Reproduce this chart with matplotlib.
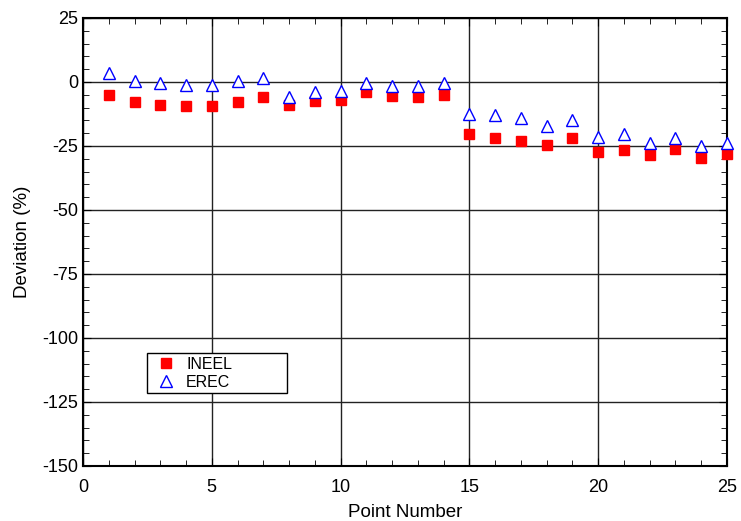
import numpy as np
import matplotlib
matplotlib.use("Agg")
import matplotlib.pyplot as plt
from matplotlib.ticker import MultipleLocator

plt.rcParams['font.family'] = ['Liberation Sans', 'DejaVu Sans']
plt.rcParams['axes.unicode_minus'] = False

points = np.arange(1, 26)
ineel = [-5, -8, -9, -9.5, -9.5, -8, -6, -9, -7.5, -7, -4, -5.5, -6, -5,
         -20.5, -22, -23, -24.5, -22, -27.5, -26.5, -28.5, -26, -29.5, -28]
erec = [3.5, 0.5, -0.5, -1, -1, 0.5, 1.5, -6, -4, -3.5, -0.5, -1.5, -1.5, -0.5,
        -12.5, -13, -14, -17, -15, -21.5, -20.5, -24, -22, -25, -24]

fig = plt.figure(figsize=(7.41, 5.21), dpi=100)
ax = fig.add_axes([83/741, 1 - 466/521, 644/741, 448/521])

ax.plot(points, ineel, ls='none', marker='s', ms=7.5, color='red', mec='red',
        label='INEEL', clip_on=False, zorder=3)
ax.plot(points, erec, ls='none', marker='^', ms=9, mfc='white', mec='blue', mew=1,
        label='EREC', clip_on=False, zorder=4)

ax.set_xlim(0, 25)
ax.set_ylim(-150, 25)
ax.xaxis.set_major_locator(MultipleLocator(5))
ax.xaxis.set_minor_locator(MultipleLocator(1))
ax.yaxis.set_major_locator(MultipleLocator(25))
ax.yaxis.set_minor_locator(MultipleLocator(5))
ax.grid(True, which='major', color='#222222', lw=1)
ax.set_axisbelow(True)
ax.tick_params(which='both', direction='in', top=True, right=True, labelsize=13)
ax.tick_params(which='major', length=6)
ax.tick_params(which='minor', length=4)
ax.tick_params(axis='x', which='major', pad=9)
for s in ax.spines.values():
    s.set_linewidth(1.5)

ax.set_xlabel('Point Number', fontsize=13.5, labelpad=6)
ax.set_ylabel('Deviation (%)', fontsize=13.5, labelpad=8)

leg = ax.legend(loc='lower left', bbox_to_anchor=(0.0994, 0.163, 0.2174, 0.089),
                mode='expand', fancybox=False, edgecolor='black', framealpha=1,
                fontsize=11.5, handletextpad=0.25, borderpad=0.2, labelspacing=0.2,
                handlelength=2.0, borderaxespad=0, markerscale=0.95)
leg.get_frame().set_linewidth(1)

plt.savefig('out.png', dpi=100)
